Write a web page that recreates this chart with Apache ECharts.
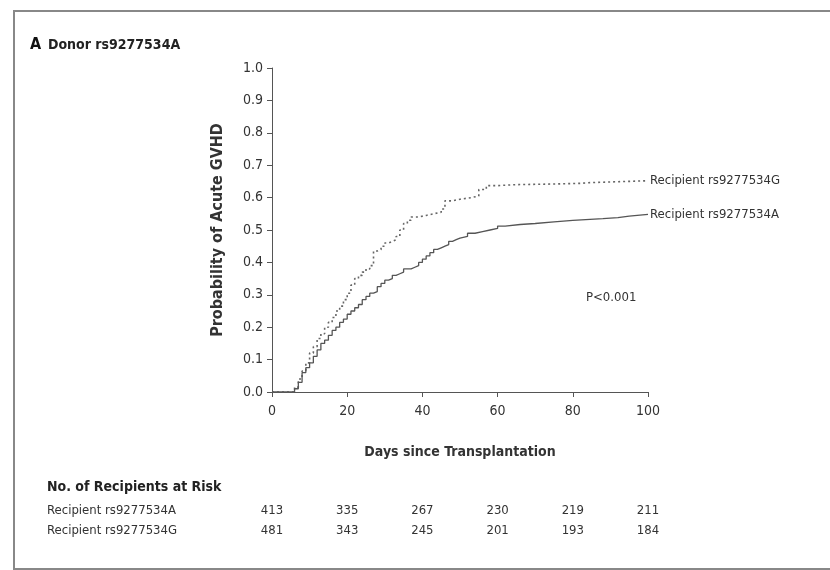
<!DOCTYPE html>
<html>
<head>
<meta charset="utf-8">
<script src="https://cdn.jsdelivr.net/npm/echarts@6/dist/echarts.min.js"></script>
<style>
  html, body { margin: 0; padding: 0; background: #fff; }
  #chart { width: 830px; height: 570px; }
</style>
</head>
<body>
<div id="chart"></div>
<script>
// cumulative incidence, [day, probability]
const seriesA = [[0,0],[5,0],[6,0.01],[7,0.03],[8,0.06],[9,0.075],[10,0.09],[11,0.11],[12,0.13],[13,0.15],[14,0.16],[15,0.175],[16,0.19],[17,0.2],[18,0.215],[19,0.225],[20,0.24],[21,0.25],[22,0.26],[23,0.27],[24,0.285],[25,0.295],[26,0.305],[27,0.31],[28,0.325],[29,0.335],[30,0.345],[31,0.35],[32,0.36],[33,0.365],[34,0.37],[35,0.38],[37,0.385],[38,0.39],[39,0.4],[40,0.41],[41,0.42],[42,0.43],[43,0.44],[44,0.445],[45,0.45],[46,0.455],[47,0.465],[48,0.47],[49,0.475],[50,0.48],[52,0.49],[54,0.495],[56,0.5],[58,0.505],[60,0.512],[62,0.517],[66,0.52],[70,0.525],[75,0.53],[80,0.535],[88,0.538],[92,0.543],[95,0.548],[100,0.548]];
const seriesG = [[0,0],[5,0],[6,0.015],[7,0.04],[8,0.065],[9,0.09],[10,0.12],[11,0.14],[12,0.165],[13,0.18],[14,0.2],[15,0.215],[16,0.23],[17,0.25],[18,0.265],[19,0.285],[20,0.305],[21,0.33],[22,0.35],[23,0.36],[24,0.37],[25,0.38],[26,0.39],[27,0.435],[28,0.44],[29,0.45],[30,0.46],[31,0.465],[32,0.47],[33,0.48],[34,0.5],[35,0.52],[36,0.53],[37,0.54],[39,0.545],[41,0.55],[43,0.555],[45,0.565],[46,0.59],[48,0.595],[50,0.6],[53,0.605],[55,0.625],[57,0.637],[60,0.64],[65,0.642],[75,0.644],[82,0.646],[84,0.652],[100,0.652]];

const riskDays = [0, 20, 40, 60, 80, 100];
const riskA = [413, 335, 267, 230, 219, 211];
const riskG = [481, 343, 245, 201, 193, 184];
const nameA = 'Recipient rs9277534A';
const nameG = 'Recipient rs9277534G';

const font = '"Liberation Sans Narrow", "DejaVu Sans Condensed", "Open Sans", sans-serif';
const ink = '#333';

let myChart = echarts.init(document.getElementById('chart'));

const option = {
  animation: false,
  textStyle: { fontFamily: font, color: ink },
  grid: { left: 272, top: 68, right: 182, bottom: 178, containLabel: false, outerBoundsMode: 'none' },
  xAxis: {
    type: 'value',
    min: 0,
    max: 100,
    interval: 20,
    name: 'Days since Transplantation',
    nameLocation: 'middle',
    nameGap: 53,
    nameTextStyle: { fontFamily: font, fontSize: 14, fontWeight: 'bold', color: ink },
    splitLine: { show: false },
    axisLine: { lineStyle: { color: '#555', width: 1 } },
    axisTick: { length: 5, lineStyle: { color: '#555' } },
    axisLabel: { fontFamily: font, fontSize: 14, color: ink, margin: 12 }
  },
  yAxis: {
    type: 'value',
    min: 0,
    max: 1,
    interval: 0.1,
    name: 'Probability of Acute GVHD',
    nameLocation: 'middle',
    nameGap: 46,
    nameTextStyle: { fontFamily: font, fontSize: 16, fontWeight: 'bold', color: ink },
    splitLine: { show: false },
    axisLine: { show: true, lineStyle: { color: '#555', width: 1 } },
    axisTick: { show: true, length: 5, lineStyle: { color: '#555' } },
    axisLabel: { fontFamily: font, fontSize: 14, color: ink, margin: 9, formatter: v => v.toFixed(1) }
  },
  series: [
    {
      name: nameG,
      type: 'line',
      step: 'end',
      data: seriesG,
      showSymbol: false,
      lineStyle: { color: '#666', width: 1.6, type: [2, 3] },
      endLabel: { show: true, formatter: '{a}', distance: 2, fontFamily: font, fontSize: 13, color: ink }
    },
    {
      name: nameA,
      type: 'line',
      step: 'end',
      data: seriesA,
      showSymbol: false,
      lineStyle: { color: '#555', width: 1.3 },
      endLabel: { show: true, formatter: '{a}', distance: 2, fontFamily: font, fontSize: 13, color: ink }
    }
  ]
};
myChart.setOption(option);

// panel frame, heading, p value and the at-risk table
const txt = (x, y, s, extra) => ({
  type: 'text', x: x, y: y,
  style: Object.assign({ text: s, fontFamily: font, fontSize: 13, fill: ink, textVerticalAlign: 'middle' }, extra || {})
});

let elements = [
  { type: 'rect', shape: { x: 14, y: 11, width: 830, height: 558 }, style: { fill: null, stroke: '#888', lineWidth: 2 }, silent: true },
  txt(30, 45, 'A', { fontSize: 16, fontWeight: 'bold', fill: '#111' }),
  txt(48, 45, 'Donor rs9277534A', { fontSize: 14, fontWeight: 'bold', fill: '#222' }),
  txt(586, 298, 'P<0.001', { fontSize: 13 }),
  txt(47, 487, 'No. of Recipients at Risk', { fontSize: 14, fontWeight: 'bold', fill: '#222' }),
  txt(47, 511, nameA),
  txt(47, 531, nameG)
];
riskDays.forEach((d, i) => {
  const x = myChart.convertToPixel({ gridIndex: 0 }, [d, 0])[0];
  elements.push(txt(x, 511, String(riskA[i]), { textAlign: 'center' }));
  elements.push(txt(x, 531, String(riskG[i]), { textAlign: 'center' }));
});
myChart.setOption({ graphic: { elements: elements } });
</script>
</body>
</html>
